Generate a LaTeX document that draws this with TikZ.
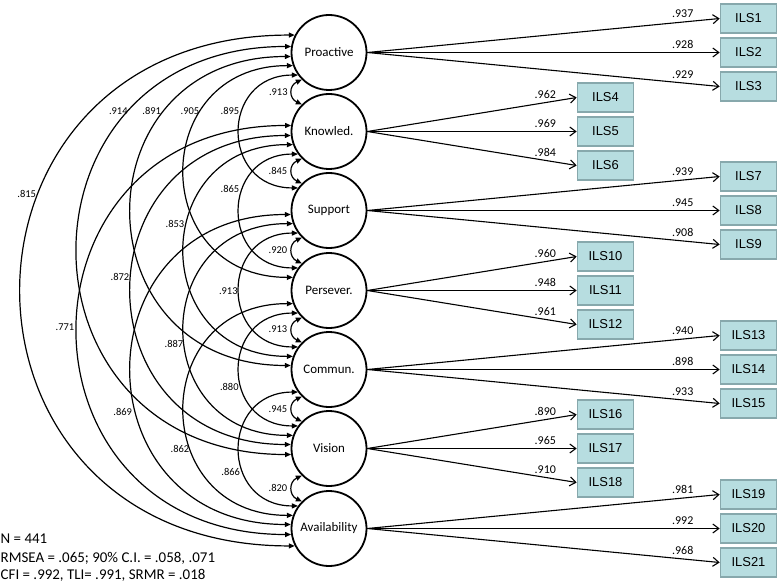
\documentclass[tikz,border=0pt]{standalone}
\usepackage{fontspec}
\setmainfont{Carlito}
\newfontfamily\arialf{Liberation Sans}
\usetikzlibrary{arrows.meta,calc}
\definecolor{boxfill}{RGB}{183,221,224}
\definecolor{boxdraw}{RGB}{135,168,172}
\newcommand\cova[5]{\draw[cov] (#1.#2) .. controls ($(#1.#2)+(-#5,0)$) and ($(#3.#4)+(-#5,0)$) .. (#3.#4);}
\newcommand\covsmall[2]{\draw[cov] (#1.225) .. controls ($(#1.225)+(-13,-6)$) and ($(#2.135)+(-13,6)$) .. (#2.135);}
\begin{document}
\begin{tikzpicture}[x=1bp,y=1bp,
 fac/.style={circle,draw,line width=1.8bp,minimum size=75bp,inner sep=0pt,font=\fontsize{13}{15}\selectfont},
 ind/.style={rectangle,draw=boxdraw,fill=boxfill,line width=1.6bp,minimum width=56bp,minimum height=29bp,inner sep=0pt,font=\arialf\fontsize{13}{15}\selectfont},
 load/.style={line width=1.1bp,-{Straight Barb[length=6bp,width=9bp]}},
 cov/.style={line width=1.2bp,{Triangle[length=6bp,width=5bp]}-{Triangle[length=6bp,width=5bp]}},
 ll/.style={font=\fontsize{12}{14}\selectfont,inner sep=0pt,anchor=south,yshift=3.5bp},
 cl/.style={font=\fontsize{10.5}{12}\selectfont,inner sep=0pt},
 fit/.style={font=\fontsize{15}{18}\selectfont,inner sep=0pt,anchor=base west},
]
\useasboundingbox (0,-583) rectangle (780,0);

% latent factors
\node[fac] (pro) at (329,-52.5) {Proactive};
\node[fac] (kno) at (329,-131.5) {Knowled.};
\node[fac] (sup) at (329,-210.5) {Support};
\node[fac] (per) at (329,-290.5) {Persever.};
\node[fac] (com) at (329,-369.5) {Commun.};
\node[fac] (vis) at (329,-448.5) {Vision};
\node[fac] (ava) at (329,-528.5) {Availability};

% indicators
\node[ind] (i1) at (748.5,-18.5) {ILS1};
\node[ind] (i2) at (748.5,-52.5) {ILS2};
\node[ind] (i3) at (748.5,-86.5) {ILS3};
\node[ind] (i4) at (605.5,-97.5) {ILS4};
\node[ind] (i5) at (605.5,-131.5) {ILS5};
\node[ind] (i6) at (605.5,-165.5) {ILS6};
\node[ind] (i7) at (748.5,-176.5) {ILS7};
\node[ind] (i8) at (748.5,-210.5) {ILS8};
\node[ind] (i9) at (748.5,-244.5) {ILS9};
\node[ind] (i10) at (605.5,-256.5) {ILS10};
\node[ind] (i11) at (605.5,-290.5) {ILS11};
\node[ind] (i12) at (605.5,-324.5) {ILS12};
\node[ind] (i13) at (748.5,-335.5) {ILS13};
\node[ind] (i14) at (748.5,-369.5) {ILS14};
\node[ind] (i15) at (748.5,-403.5) {ILS15};
\node[ind] (i16) at (605.5,-414.5) {ILS16};
\node[ind] (i17) at (605.5,-448.5) {ILS17};
\node[ind] (i18) at (605.5,-482.5) {ILS18};
\node[ind] (i19) at (748.5,-494.5) {ILS19};
\node[ind] (i20) at (748.5,-528.5) {ILS20};
\node[ind] (i21) at (748.5,-562.5) {ILS21};

% loadings
\draw[load] (pro.east) -- (i1.west) node[ll,pos=0.895]{.937};
\draw[load] (pro.east) -- (i2.west) node[ll,pos=0.895]{.928};
\draw[load] (pro.east) -- (i3.west) node[ll,pos=0.895]{.929};
\draw[load] (kno.east) -- (i4.west) node[ll,pos=0.85]{.962};
\draw[load] (kno.east) -- (i5.west) node[ll,pos=0.85]{.969};
\draw[load] (kno.east) -- (i6.west) node[ll,pos=0.85]{.984};
\draw[load] (sup.east) -- (i7.west) node[ll,pos=0.895]{.939};
\draw[load] (sup.east) -- (i8.west) node[ll,pos=0.895]{.945};
\draw[load] (sup.east) -- (i9.west) node[ll,pos=0.895]{.908};
\draw[load] (per.east) -- (i10.west) node[ll,pos=0.85]{.960};
\draw[load] (per.east) -- (i11.west) node[ll,pos=0.85]{.948};
\draw[load] (per.east) -- (i12.west) node[ll,pos=0.85]{.961};
\draw[load] (com.east) -- (i13.west) node[ll,pos=0.895]{.940};
\draw[load] (com.east) -- (i14.west) node[ll,pos=0.895]{.898};
\draw[load] (com.east) -- (i15.west) node[ll,pos=0.895]{.933};
\draw[load] (vis.east) -- (i16.west) node[ll,pos=0.85]{.890};
\draw[load] (vis.east) -- (i17.west) node[ll,pos=0.85]{.965};
\draw[load] (vis.east) -- (i18.west) node[ll,pos=0.85]{.910};
\draw[load] (ava.east) -- (i19.west) node[ll,pos=0.895]{.981};
\draw[load] (ava.east) -- (i20.west) node[ll,pos=0.895]{.992};
\draw[load] (ava.east) -- (i21.west) node[ll,pos=0.895]{.968};

% adjacent covariances
\covsmall{pro}{kno}
\covsmall{kno}{sup}
\covsmall{sup}{per}
\covsmall{per}{com}
\covsmall{com}{vis}
\covsmall{vis}{ava}
% gap 2
\cova{pro}{216}{sup}{144}{78}
\cova{kno}{216}{per}{144}{78}
\cova{sup}{216}{com}{144}{78}
\cova{per}{216}{vis}{144}{78}
\cova{com}{216}{ava}{144}{78}
% gap 3
\cova{pro}{200}{per}{160}{145}
\cova{kno}{200}{com}{160}{145}
\cova{sup}{200}{vis}{160}{145}
\cova{per}{200}{ava}{160}{145}
% gap 4
\cova{pro}{186}{com}{174}{213}
\cova{kno}{186}{vis}{174}{213}
\cova{sup}{186}{ava}{174}{213}
% gap 5
\cova{pro}{171}{vis}{189}{285}
\cova{kno}{171}{ava}{189}{285}
% gap 6
\cova{pro}{153}{ava}{207}{365}

% covariance labels
\node[cl] (c01) at (278.3,-92) {.913};
\node[cl] (c12) at (278,-170.7) {.845};
\node[cl] (c23) at (278,-250) {.920};
\node[cl] (c34) at (278,-329.3) {.913};
\node[cl] (c45) at (278,-409) {.945};
\node[cl] (c56) at (278,-487.7) {.820};
\node[cl] (c02) at (230,-111) {.895};
\node[cl] (c13) at (230,-189.3) {.865};
\node[cl] (c24) at (228.3,-290.7) {.913};
\node[cl] (c35) at (229.3,-386.7) {.880};
\node[cl] (c46) at (230.7,-472.3) {.866};
\node[cl] (c03) at (190,-111) {.905};
\node[cl] (c14) at (175,-224.3) {.853};
\node[cl] (c25) at (174,-344.3) {.887};
\node[cl] (c36) at (180,-449.3) {.862};
\node[cl] (c04) at (151.7,-111) {.891};
\node[cl] (c15) at (120,-277) {.872};
\node[cl] (c26) at (122.7,-412.3) {.869};
\node[cl] (c05) at (118.3,-111) {.914};
\node[cl] (c16) at (65,-326.7) {.771};
\node[cl] (c06) at (26.7,-194.3) {.815};

% fit statistics
\node[fit] (n) at (0.5,-543.5) {N = 441};
\node[fit] (rmsea) at (0.5,-562) {RMSEA = .065; 90\% C.I. = .058, .071};
\node[fit] (cfi) at (0.5,-579.5) {CFI = .992, TLI= .991, SRMR = .018};
\end{tikzpicture}
\end{document}
